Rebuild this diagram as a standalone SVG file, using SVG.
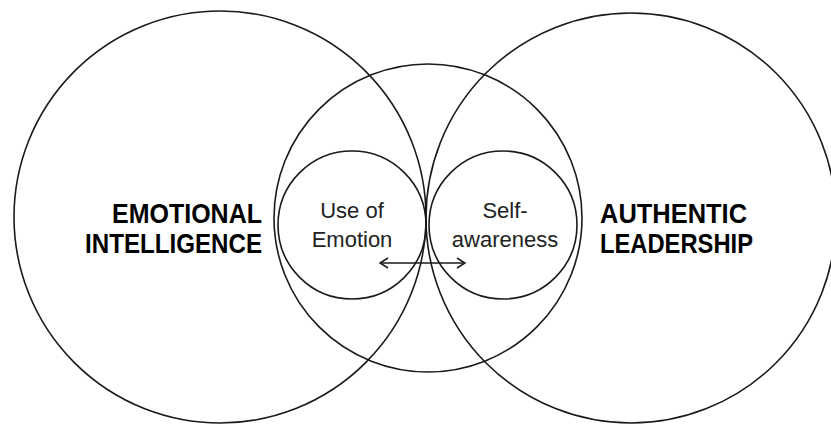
<svg xmlns="http://www.w3.org/2000/svg" width="831" height="427" viewBox="0 0 831 427">
<style>
.c{fill:none;stroke:#1a1a1a;stroke-width:1.6}
.t{font-family:"Liberation Sans",Arial,sans-serif;font-size:22px;fill:#222;text-anchor:middle}
.b{font-family:"Liberation Sans",Arial,sans-serif;font-size:28px;font-weight:bold;fill:#000}
</style>
<defs>
<marker id="ah" viewBox="0 0 10 12" refX="9" refY="6" markerWidth="10" markerHeight="12" markerUnits="userSpaceOnUse" orient="auto-start-reverse">
<path d="M1,1 L9,6 L1,11" fill="none" stroke="#1a1a1a" stroke-width="1.5"/>
</marker>
</defs>
<rect width="831" height="427" fill="#fff"/>
<g id="emotional-intelligence">
<circle class="c" cx="220" cy="217" r="206"/>
<text class="b" x="262" y="223" text-anchor="end" textLength="150" lengthAdjust="spacingAndGlyphs">EMOTIONAL</text>
<text class="b" x="262" y="253" text-anchor="end" textLength="177" lengthAdjust="spacingAndGlyphs">INTELLIGENCE</text>
</g>
<g id="authentic-leadership">
<circle class="c" cx="631" cy="218" r="205"/>
<text class="b" x="600" y="223" textLength="147" lengthAdjust="spacingAndGlyphs">AUTHENTIC</text>
<text class="b" x="600" y="253" textLength="153" lengthAdjust="spacingAndGlyphs">LEADERSHIP</text>
</g>
<g id="overlap">
<circle class="c" cx="428" cy="218" r="154"/>
</g>
<g id="use-of-emotion">
<circle class="c" cx="352" cy="225" r="74"/>
<text class="t" x="352" y="218">Use of</text>
<text class="t" x="352" y="247">Emotion</text>
</g>
<g id="self-awareness">
<circle class="c" cx="503" cy="225" r="74"/>
<text class="t" x="505" y="218">Self-</text>
<text class="t" x="505" y="247">awareness</text>
</g>
<g id="connectors">
<line x1="380" y1="263" x2="465" y2="263" stroke="#1a1a1a" stroke-width="1.5" marker-start="url(#ah)" marker-end="url(#ah)"/>
</g>
</svg>
